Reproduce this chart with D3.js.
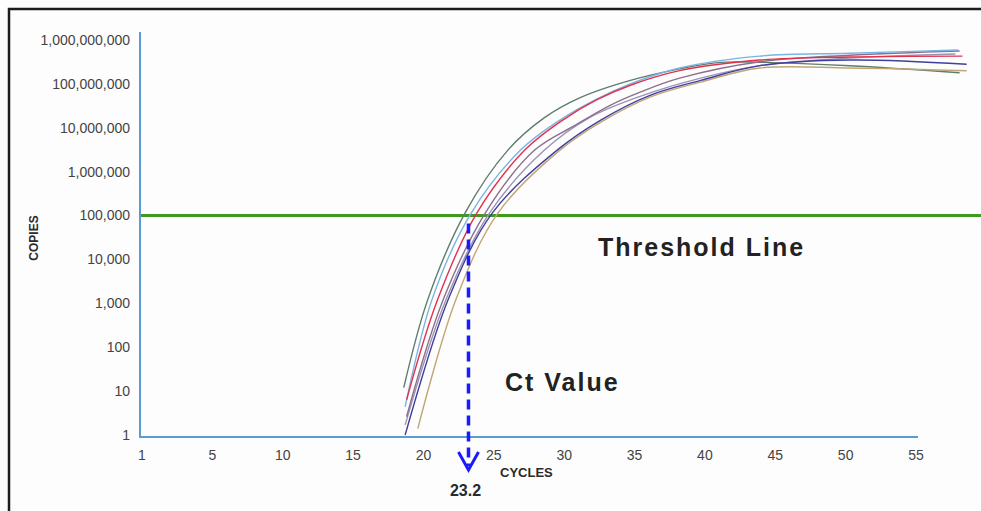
<!DOCTYPE html>
<html>
<head>
<meta charset="utf-8">
<script src="https://cdn.jsdelivr.net/npm/d3@7"></script>
<style>
  body { margin: 0; background: #fdfdfd; }
  svg { display: block; }
  .tick-label { font-family: 'Liberation Sans', Arial, sans-serif; font-size: 14px; fill: #444; }
  .axis-title { font-family: 'Liberation Sans', Arial, sans-serif; font-weight: bold; fill: #2a2a2a; }
  .big-label { font-family: 'Liberation Sans', Arial, sans-serif; font-weight: bold; font-size: 25px; letter-spacing: 2px; fill: #222; }
</style>
</head>
<body>
<svg id="pcr-svg"></svg>
<script>
// Tick labels
const xTickValues = [0, 5, 10, 15, 20, 25, 30, 35, 40, 45, 50, 55];
const xTickLabels = ['1', '5', '10', '15', '20', '25', '30', '35', '40', '45', '50', '55'];
const yTickValues = [1, 10, 100, 1e3, 1e4, 1e5, 1e6, 1e7, 1e8, 1e9];

const threshold = 1e5;
const ctValue = 23.2;

// Amplification curves: [cycle, copies]
const darkGreen = [[18.6, 12], [20.3, 1.2e3], [22.96, 1.15e5], [26.0, 3.1e6], [28.6, 1.7e7], [31.1, 4.8e7], [34.7, 1.2e8], [38.2, 2.2e8], [41.1, 3.1e8], [43.9, 3.1e8], [50.3, 2.6e8], [58.1, 1.8e8]];
const lightBlue = [[18.7, 4.4], [20.6, 1.2e3], [23.4, 1.15e5], [26.9, 3.1e6], [29.7, 1.5e7], [32.3, 4.5e7], [34.7, 1.0e8], [38.2, 2.3e8], [43.9, 4.3e8], [50.3, 5.0e8], [58.0, 5.9e8]];
const red = [[18.8, 6.3], [21.0, 1.2e3], [23.8, 1.15e5], [27.2, 3.1e6], [29.9, 1.5e7], [32.3, 4.3e7], [34.7, 9.3e7], [38.2, 2.0e8], [43.9, 3.5e8], [50.3, 4.1e8], [58.3, 4.3e8]];
const mauve = [[18.8, 2.6], [21.4, 1.2e3], [24.4, 1.15e5], [27.9, 3.1e6], [30.8, 1.15e7], [33.3, 3.3e7], [35.4, 6.5e7], [38.2, 1.35e8], [43.9, 3.2e8], [50.3, 4.5e8], [58.1, 5.6e8]];
const lilac = [[18.7, 1.7], [21.6, 1.2e3], [24.7, 1.15e5], [28.6, 3.1e6], [31.8, 1.7e7], [35.4, 5.2e7], [39.7, 1.35e8], [43.9, 2.6e8], [50.3, 3.9e8], [57.8, 4.8e8]];
const darkBlue = [[18.7, 1], [21.75, 1.2e3], [24.9, 1.15e5], [29.5, 3.1e6], [32.6, 1.5e7], [36.1, 5.5e7], [39.7, 1.2e8], [43.9, 2.6e8], [50.3, 3.5e8], [58.6, 2.8e8]];
const tan = [[19.6, 1.4], [22.3, 1.2e3], [25.3, 1.15e5], [29.7, 3.1e6], [32.7, 1.4e7], [36.1, 5.0e7], [39.7, 1.1e8], [43.9, 2.3e8], [50.3, 2.3e8], [58.6, 2.0e8]];

const curves = [
  { data: darkGreen, color: '#5d7d6d' },
  { data: lilac, color: '#9d93b3' },
  { data: mauve, color: '#8c6f8c' },
  { data: lightBlue, color: '#7ab4e2' },
  { data: red, color: '#e5304c' },
  { data: tan, color: '#c2a574' },
  { data: darkBlue, color: '#3f3f9f' },
];

const width = 981;
const height = 511;

const svg = d3.select('#pcr-svg').attr('width', width).attr('height', height);

// Frame
svg.append('rect')
  .attr('x', 9)
  .attr('y', 9)
  .attr('width', 1000)
  .attr('height', 600)
  .attr('fill', '#fdfdfd')
  .attr('stroke', '#1c1c1c')
  .attr('stroke-width', 2.5);

const xScale = d3.scaleLinear().domain([0, 55]).range([142, 916]);
const yScale = d3.scaleLog().domain([1, 1e9]).range([435, 40]);

// Axes lines
svg.append('line')
  .attr('x1', 140).attr('x2', 140)
  .attr('y1', 32).attr('y2', 437)
  .attr('stroke', '#5b9bd5').attr('stroke-width', 2);
svg.append('line')
  .attr('x1', 139).attr('x2', 918)
  .attr('y1', 437).attr('y2', 437)
  .attr('stroke', '#5b9bd5').attr('stroke-width', 2);

// Y tick labels
svg.append('g')
  .selectAll('text')
  .data(yTickValues)
  .join('text')
  .attr('class', 'tick-label')
  .attr('x', 130)
  .attr('y', (d) => yScale(d))
  .attr('dy', '0.35em')
  .attr('text-anchor', 'end')
  .text((d) => d3.format(',')(d));

// X tick labels
svg.append('g')
  .selectAll('text')
  .data(xTickValues)
  .join('text')
  .attr('class', 'tick-label')
  .attr('x', (d) => xScale(d))
  .attr('y', 460)
  .attr('text-anchor', 'middle')
  .text((d, i) => xTickLabels[i]);

// Axis titles
svg.append('text')
  .attr('class', 'axis-title')
  .attr('font-size', 12)
  .attr('transform', 'translate(38, 238) rotate(-90)')
  .attr('text-anchor', 'middle')
  .text('COPIES');
svg.append('text')
  .attr('class', 'axis-title')
  .attr('font-size', 13)
  .attr('x', 500)
  .attr('y', 477)
  .text('CYCLES');

// Threshold line
svg.append('line')
  .attr('x1', 141).attr('x2', width)
  .attr('y1', yScale(threshold)).attr('y2', yScale(threshold))
  .attr('stroke', '#3f9a1f').attr('stroke-width', 3);

// Curves
const line = d3.line()
  .x((d) => xScale(d[0]))
  .y((d) => yScale(d[1]))
  .curve(d3.curveCatmullRom.alpha(0.5));

svg.append('g')
  .selectAll('path')
  .data(curves)
  .join('path')
  .attr('fill', 'none')
  .attr('stroke', (d) => d.color)
  .attr('stroke-width', 1.4)
  .attr('d', (d) => line(d.data));

// Ct marker
const ctX = xScale(ctValue);
svg.append('line')
  .attr('x1', ctX).attr('x2', ctX)
  .attr('y1', yScale(threshold) + 8).attr('y2', 466)
  .attr('stroke', '#1a1aff')
  .attr('stroke-width', 3.5)
  .attr('stroke-dasharray', '10,6');
svg.append('path')
  .attr('d', `M${ctX - 10},452 L${ctX},470 L${ctX + 10},452`)
  .attr('fill', 'none')
  .attr('stroke', '#1a1aff')
  .attr('stroke-width', 3);
svg.append('text')
  .attr('class', 'axis-title')
  .attr('font-size', 16)
  .attr('x', ctX - 3)
  .attr('y', 496)
  .attr('text-anchor', 'middle')
  .text(ctValue);

// Annotations
svg.append('text')
  .attr('class', 'big-label')
  .attr('x', 598)
  .attr('y', 256)
  .text('Threshold Line');
svg.append('text')
  .attr('class', 'big-label')
  .attr('x', 505)
  .attr('y', 391)
  .text('Ct Value');
</script>
</body>
</html>
